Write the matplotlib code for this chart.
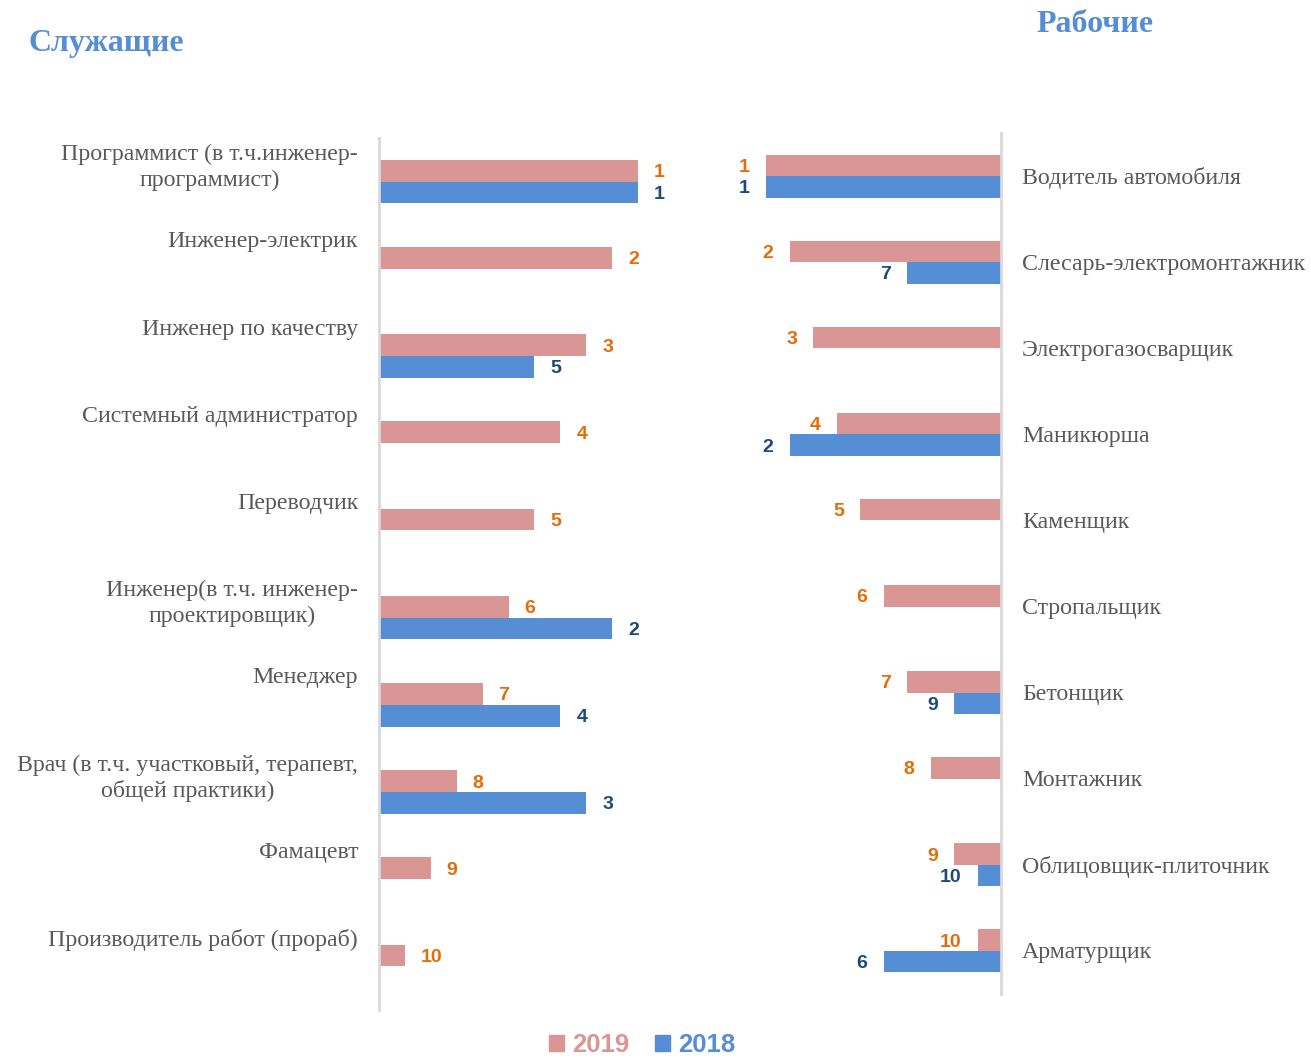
import matplotlib.pyplot as plt
import numpy as np
from matplotlib.patches import Patch

# Служащие (left panel), top to bottom; None = not in the 2018 list
LEFT_CATS = [
    "Программист (в т.ч.инженер-\nпрограммист)",
    "Инженер-электрик",
    "Инженер по качеству",
    "Системный администратор",
    "Переводчик",
    "Инженер(в т.ч. инженер-\nпроектировщик)",
    "Менеджер",
    "Врач (в т.ч. участковый, терапевт,\nобщей практики)",
    "Фамацевт",
    "Производитель работ (прораб)",
]
LEFT_2019 = [1, 2, 3, 4, 5, 6, 7, 8, 9, 10]
LEFT_2018 = [1, None, 5, None, None, 2, 4, 3, None, None]

# Рабочие (right panel)
RIGHT_CATS = [
    "Водитель автомобиля",
    "Слесарь-электромонтажник",
    "Электрогазосварщик",
    "Маникюрша",
    "Каменщик",
    "Стропальщик",
    "Бетонщик",
    "Монтажник",
    "Облицовщик-плиточник",
    "Арматурщик",
]
RIGHT_2019 = [1, 2, 3, 4, 5, 6, 7, 8, 9, 10]
RIGHT_2018 = [1, 7, None, 2, None, None, 9, None, 10, 6]

MAX_RANK = 10
PINK = "#D99694"
BLUE = "#558ED5"
ORANGE = "#E46C0A"
NAVY = "#1F497D"
GREY = "#595959"
SERIF = "Liberation Serif"
SANS = "Liberation Sans"

W, H = 1311, 1059


def px_axes(fig, x0, x1, y0, y1):
    return fig.add_axes([x0 / W, 1 - y1 / H, (x1 - x0) / W, (y1 - y0) / H])


def draw_panel(ax, cats, r19, r18, side):
    n = len(cats)
    y = np.arange(n)
    sign = 1 if side == "left" else -1
    ha = "left" if side == "left" else "right"
    for yi, rank in zip(y, r19):
        length = MAX_RANK + 1 - rank
        ax.barh(yi - 0.125, length, height=0.25, color=PINK, edgecolor="none")
        ax.annotate(str(rank), (length, yi - 0.125), xytext=(16 * sign, -2),
                    textcoords="offset pixels", va="center", ha=ha,
                    color=ORANGE, fontsize=14, fontweight="bold", family=SANS)
    for yi, rank in zip(y, r18):
        if rank is None:
            continue
        length = MAX_RANK + 1 - rank
        ax.barh(yi + 0.125, length, height=0.25, color=BLUE, edgecolor="none")
        ax.annotate(str(rank), (length, yi + 0.125), xytext=(16 * sign, -2),
                    textcoords="offset pixels", va="center", ha=ha,
                    color=NAVY, fontsize=14, fontweight="bold", family=SANS)
    ax.set_ylim(n - 0.5, -0.5)
    ax.set_yticks([])
    ax.set_xticks([])
    for s in ax.spines.values():
        s.set_visible(False)
    sp = ax.spines["left" if side == "left" else "right"]
    sp.set_visible(True)
    sp.set_color("#D9D9D9")
    sp.set_linewidth(2)
    ax.patch.set_alpha(0)


fig = plt.figure(figsize=(W / 100, H / 100), dpi=100)

ax_l = px_axes(fig, 379, 700, 138, 1010)
draw_panel(ax_l, LEFT_CATS, LEFT_2019, LEFT_2018, "left")
ax_l.set_xlim(0, 321 / 25.9)
for i, lab in enumerate(LEFT_CATS):
    ax_l.annotate(lab, (0, i - 0.43), xycoords=("axes fraction", "data"),
                  xytext=(-21, 0), textcoords="offset pixels",
                  ha="right", va="top", multialignment="center",
                  fontsize=17.2, color=GREY, family=SERIF, linespacing=1.28)

ax_r = px_axes(fig, 720, 1001, 133, 994)
draw_panel(ax_r, RIGHT_CATS, RIGHT_2019, RIGHT_2018, "right")
ax_r.set_xlim(281 / 23.5, 0)
for i, lab in enumerate(RIGHT_CATS):
    ax_r.annotate(lab, (1, i), xycoords=("axes fraction", "data"),
                  xytext=(21, -2), textcoords="offset pixels",
                  ha="left", va="center",
                  fontsize=17.2, color=GREY, family=SERIF)

fig.text(28 / W, 1 - 43 / H, "Служащие", ha="left", va="center",
         fontsize=23, fontweight="bold", color=BLUE, family=SERIF)
fig.text(1036 / W, 1 - 25 / H, "Рабочие", ha="left", va="center",
         fontsize=23, fontweight="bold", color=BLUE, family=SERIF)

handles = [Patch(color=PINK, label="2019"), Patch(color=BLUE, label="2018")]
fig.legend(handles=handles, loc="center", bbox_to_anchor=(642 / W, 1 - 1045 / H),
           ncol=2, frameon=False, labelcolor=[PINK, BLUE],
           prop={"family": SANS, "size": 18.5, "weight": "bold"},
           handlelength=0.6, handleheight=0.6, handletextpad=0.3,
           columnspacing=1.0, borderpad=0.2)

fig.savefig("out.png", dpi=100)
